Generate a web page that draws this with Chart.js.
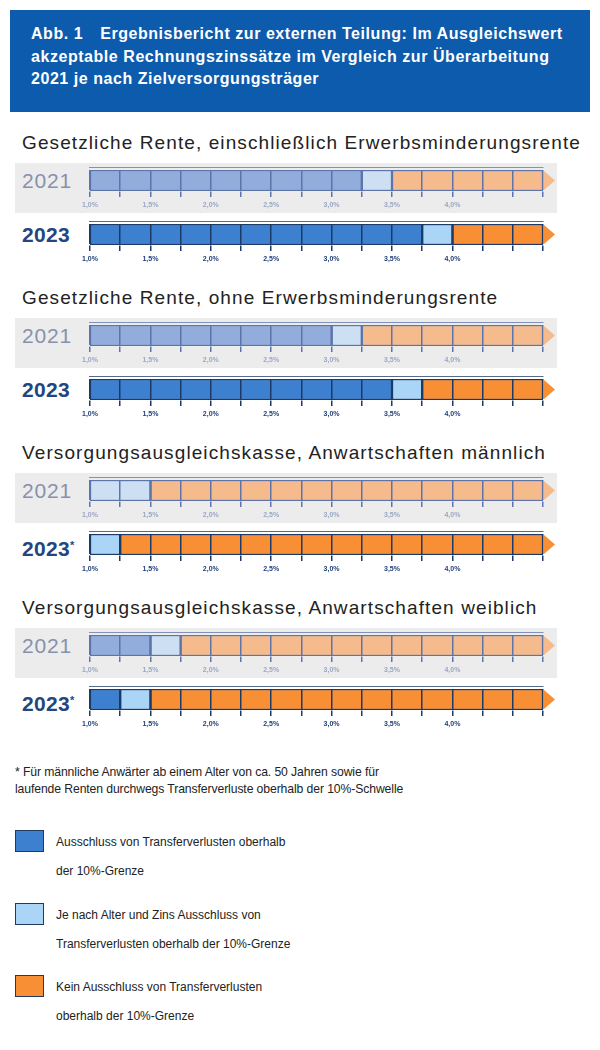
<!DOCTYPE html>
<html lang="de">
<head>
    <meta charset="UTF-8">
    <title>Abb. 1 Ergebnisbericht zur externen Teilung</title>
    <script src="https://cdn.jsdelivr.net/npm/chart.js"></script>
    <style>
        body {
            margin: 0;
            width: 600px;
            height: 1050px;
            position: relative;
            background: #fff;
            font-family: "Liberation Sans", Arial, sans-serif;
            overflow: hidden;
        }
        .kopf {
            position: absolute;
            left: 10px;
            top: 10px;
            width: 580px;
            height: 102px;
            background: #0c5bac;
            color: #fff;
            box-sizing: border-box;
            padding: 13px 0 0 21px;
            font-weight: bold;
            font-size: 16px;
            line-height: 22.5px;
            letter-spacing: 0.55px;
            white-space: nowrap;
        }
        .kopf .nr { margin-right: 17px; }
        .titel {
            position: absolute;
            left: 22px;
            font-size: 19px;
            letter-spacing: 1.1px;
            color: #222;
            white-space: nowrap;
        }
        .band {
            position: absolute;
            left: 15px;
            width: 542px;
            height: 50px;
            background: #ececec;
        }
        .jahr {
            position: absolute;
            left: 22px;
            font-size: 21px;
            line-height: 22px;
            letter-spacing: 0.8px;
        }
        .jahr.alt { color: #8791ac; }
        .jahr.neu { color: #23467f; font-weight: bold; letter-spacing: 0.3px; }
        .jahr sup { font-size: 11px; vertical-align: 7px; }
        canvas { position: absolute; }
        .fussnote {
            position: absolute;
            left: 15px;
            top: 764px;
            font-size: 12.2px;
            line-height: 17px;
            color: #222;
            letter-spacing: -0.1px;
            white-space: nowrap;
        }
        .leg-box {
            position: absolute;
            left: 15px;
            width: 27px;
            height: 20px;
            border: 1.5px solid #1f3a63;
        }
        .leg-text {
            position: absolute;
            left: 56px;
            font-size: 12px;
            line-height: 29px;
            color: #222;
            letter-spacing: 0;
            white-space: nowrap;
        }
    </style>
</head>
<body>
    <div class="kopf">
        <span class="nr">Abb. 1</span>Ergebnisbericht zur externen Teilung: Im Ausgleichswert<br>
        akzeptable Rechnungszinssätze im Vergleich zur Überarbeitung<br>
        2021 je nach Zielversorgungsträger
    </div>

    <div class="fussnote">* Für männliche Anwärter ab einem Alter von ca. 50 Jahren sowie für<br>laufende Renten durchwegs Transferverluste oberhalb der 10%-Schwelle</div>

    <script>
        // Daten
        const abschnitte = [
            'Gesetzliche Rente, einschließlich Erwerbsminderungsrente',
            'Gesetzliche Rente, ohne Erwerbsminderungsrente',
            'Versorgungsausgleichskasse, Anwartschaften männlich',
            'Versorgungsausgleichskasse, Anwartschaften weiblich'
        ];
        const jahre = ['2021', '2023', '2021', '2023', '2021', '2023*', '2021', '2023*'];
        const ausschlussBis = [3.25, 3.75, 3.0, 3.5, 1.0, 1.0, 1.5, 1.25];
        const jeNachAlterBis = [3.5, 4.0, 3.25, 3.75, 1.5, 1.25, 1.75, 1.5];
        const skalaMin = 1.0;
        const skalaMax = 4.75;
        const schritt = 0.25;
        const tickWerte = [1.0, 1.5, 2.0, 2.5, 3.0, 3.5, 4.0];
        const tickLabels = ['1,0%', '1,5%', '2,0%', '2,5%', '3,0%', '3,5%', '4,0%'];
        const legende = [
            ['Ausschluss von Transferverlusten oberhalb', 'der 10%-Grenze'],
            ['Je nach Alter und Zins Ausschluss von', 'Transferverlusten oberhalb der 10%-Grenze'],
            ['Kein Ausschluss von Transferverlusten', 'oberhalb der 10%-Grenze']
        ];

        const stil2021 = {
            farben: ['#92acdb', '#cde0f3', '#f5bb8c'],
            rahmen: '#5d74ab',
            tick: '#9aa7c4'
        };
        const stil2023 = {
            farben: ['#3d80d0', '#abd5f6', '#f98f35'],
            rahmen: '#1d3a66',
            tick: '#22407a'
        };

        // Pfeilspitze am rechten Ende der Skala
        const pfeilPlugin = {
            id: 'pfeil',
            afterDatasetsDraw(chart, args, opts) {
                const x = chart.scales.x;
                const a = chart.chartArea;
                const px = x.getPixelForValue(x.max);
                const ctx = chart.ctx;
                ctx.save();
                ctx.fillStyle = opts.farbe;
                ctx.beginPath();
                ctx.moveTo(px + 1, a.top + 1);
                ctx.lineTo(px + 12, (a.top + a.bottom) / 2);
                ctx.lineTo(px + 1, a.bottom - 1);
                ctx.closePath();
                ctx.fill();
                ctx.restore();
            }
        };

        function element(tag, cls, top, html) {
            const el = document.createElement(tag);
            el.className = cls;
            el.style.top = top + 'px';
            el.innerHTML = html;
            document.body.appendChild(el);
            return el;
        }

        function zeichneZeile(i) {
            const abschnitt = Math.floor(i / 2);
            const alt = i % 2 === 0;
            const stil = alt ? stil2021 : stil2023;
            const balkenOben = (alt ? 170 : 224) + abschnitt * 155;

            if (alt) {
                element('div', 'band', balkenOben - 7, '');
            }
            const jahr = jahre[i].replace('*', '<sup>*</sup>');
            element('div', 'jahr ' + (alt ? 'alt' : 'neu'), balkenOben, jahr);

            const canvas = document.createElement('canvas');
            canvas.width = 498;
            canvas.height = 46;
            canvas.style.left = '60px';
            canvas.style.top = (balkenOben - 3) + 'px';
            document.body.appendChild(canvas);

            const segmente = [
                [skalaMin, ausschlussBis[i]],
                [ausschlussBis[i], jeNachAlterBis[i]],
                [jeNachAlterBis[i], skalaMax]
            ];

            new Chart(canvas.getContext('2d'), {
                type: 'bar',
                data: {
                    labels: [jahre[i]],
                    datasets: segmente.map((s, k) => ({
                        data: [s],
                        backgroundColor: stil.farben[k],
                        borderColor: stil.rahmen,
                        borderWidth: 1.5,
                        borderSkipped: false,
                        grouped: false,
                        barPercentage: 1,
                        categoryPercentage: 1
                    }))
                },
                options: {
                    indexAxis: 'y',
                    responsive: false,
                    animation: false,
                    layout: { padding: { left: 30, right: 15, top: 3, bottom: 0 } },
                    plugins: {
                        legend: { display: false },
                        tooltip: { enabled: false },
                        pfeil: { farbe: stil.farben[2] }
                    },
                    scales: {
                        x: {
                            type: 'linear',
                            min: skalaMin,
                            max: skalaMax,
                            afterFit: s => { s.height = 22; },
                            afterBuildTicks: s => {
                                s.ticks = [];
                                for (let v = skalaMin; v <= skalaMax + 1e-9; v += schritt) {
                                    s.ticks.push({ value: Math.round(v * 100) / 100 });
                                }
                            },
                            ticks: {
                                autoSkip: false,
                                maxRotation: 0,
                                padding: 4,
                                color: stil.tick,
                                font: { size: 7, weight: 'bold', family: 'Liberation Sans' },
                                callback: v => {
                                    const k = tickWerte.indexOf(v);
                                    return k >= 0 ? tickLabels[k] : '';
                                }
                            },
                            grid: {
                                z: 1,
                                color: stil.rahmen,
                                lineWidth: 1.5,
                                tickLength: 6
                            },
                            border: { display: true, color: stil.rahmen, width: 1.5 }
                        },
                        y: { display: false }
                    }
                },
                plugins: [pfeilPlugin]
            });
        }

        abschnitte.forEach((t, s) => {
            element('div', 'titel', 132 + s * 155, t);
        });
        jahre.forEach((j, i) => zeichneZeile(i));

        const legFarben = ['#3d80d0', '#abd5f6', '#f98f35'];
        const legOben = [830, 903, 975];
        legende.forEach((zeilen, k) => {
            const box = element('div', 'leg-box', legOben[k], '');
            box.style.background = legFarben[k];
            element('div', 'leg-text', legOben[k] - 2, zeilen.join('<br>'));
        });
    </script>
</body>
</html>
